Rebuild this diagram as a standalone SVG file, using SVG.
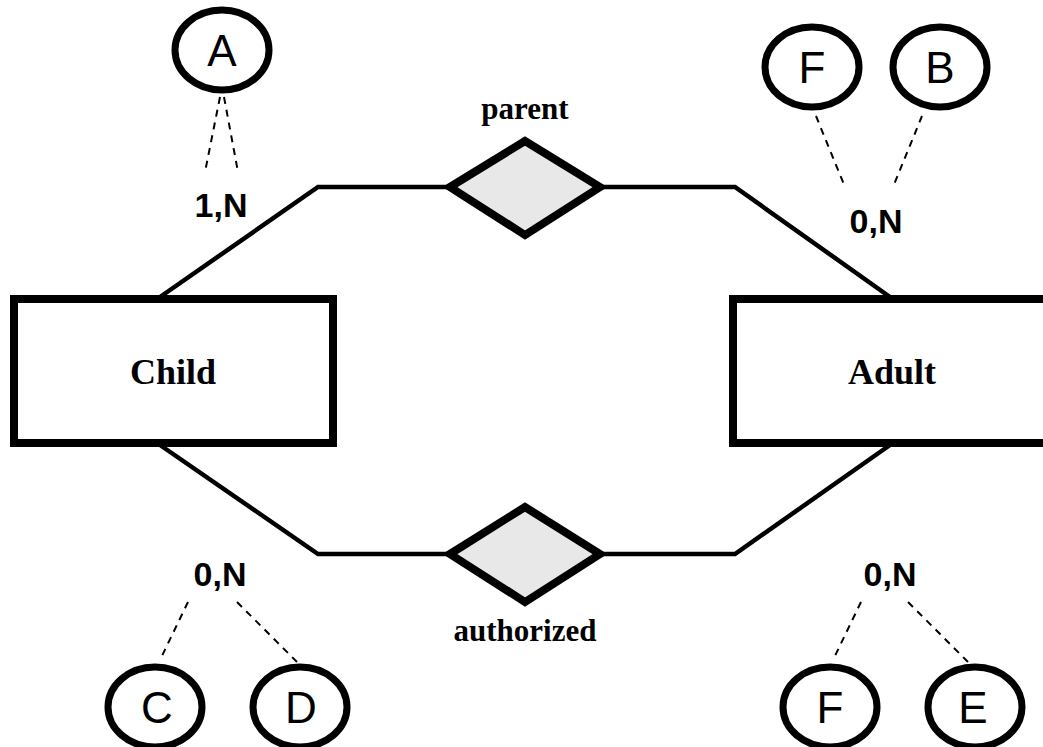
<svg xmlns="http://www.w3.org/2000/svg" width="1043" height="747" viewBox="0 0 1043 747">
<style>
.ent{fill:#fff;stroke:#000;stroke-width:8}
.rel{fill:#e8e8e8;stroke:#000;stroke-width:8;stroke-linejoin:miter}
.att{fill:#fff;stroke:#000;stroke-width:7}
.conn{fill:none;stroke:#000;stroke-width:4.5}
.dash{fill:none;stroke:#000;stroke-width:2;stroke-dasharray:7 6}
.lbl{font-family:"Liberation Serif","Times New Roman",serif;font-weight:bold;text-anchor:middle;fill:#000}
.card{font-family:"Liberation Sans",Arial,sans-serif;font-weight:bold;font-size:34px;text-anchor:middle;fill:#000}
.attl{font-family:"Liberation Sans",Arial,sans-serif;font-size:44px;text-anchor:middle;fill:#000}
</style>
<rect width="1043" height="747" fill="#fff"/>
<g id="connectors">
<polyline class="conn" points="160,297 318,187 450,187"/>
<polyline class="conn" points="600,187 735,187 890,297"/>
<polyline class="conn" points="160,445 318,554 450,554"/>
<polyline class="conn" points="600,554 735,554 890,445"/>
<line class="dash" x1="220" y1="97" x2="205" y2="172"/>
<line class="dash" x1="224" y1="97" x2="238" y2="172"/>
<line class="dash" x1="816" y1="116" x2="845" y2="187"/>
<line class="dash" x1="922" y1="116" x2="893" y2="187"/>
<line class="dash" x1="188" y1="602" x2="160" y2="660"/>
<line class="dash" x1="237" y1="602" x2="297" y2="662"/>
<line class="dash" x1="861" y1="602" x2="833" y2="660"/>
<line class="dash" x1="908" y1="602" x2="968" y2="662"/>
</g>
<g id="child"><rect class="ent" x="14" y="299" width="319" height="144"/><text class="lbl" x="173" y="384" font-size="36">Child</text></g>
<g id="adult"><rect class="ent" x="733" y="299" width="319" height="144"/><text class="lbl" x="892" y="384" font-size="36">Adult</text></g>
<g id="parent"><polygon class="rel" points="450,187 525,141 600,187 525,235"/><text class="lbl" x="525" y="119" font-size="31">parent</text></g>
<g id="authorized"><polygon class="rel" points="450,554 525,507 600,554 525,602"/><text class="lbl" x="525" y="641" font-size="31">authorized</text></g>
<g id="card-child-parent"><text class="card" x="221" y="217">1,N</text></g>
<g id="card-adult-parent"><text class="card" x="876" y="233">0,N</text></g>
<g id="card-child-auth"><text class="card" x="220" y="586">0,N</text></g>
<g id="card-adult-auth"><text class="card" x="890" y="586">0,N</text></g>
<g id="attr-A"><ellipse class="att" cx="222" cy="50" rx="47" ry="40"/><text class="attl" x="222" y="66">A</text></g>
<g id="attr-F1"><ellipse class="att" cx="812" cy="67" rx="47" ry="40"/><text class="attl" x="812" y="83">F</text></g>
<g id="attr-B"><ellipse class="att" cx="940" cy="67" rx="47" ry="40"/><text class="attl" x="940" y="83">B</text></g>
<g id="attr-C"><ellipse class="att" cx="155" cy="707" rx="47" ry="40"/><text class="attl" x="157" y="723">C</text></g>
<g id="attr-D"><ellipse class="att" cx="300" cy="707" rx="47" ry="40"/><text class="attl" x="301" y="723">D</text></g>
<g id="attr-F2"><ellipse class="att" cx="830" cy="707" rx="47" ry="40"/><text class="attl" x="830" y="723">F</text></g>
<g id="attr-E"><ellipse class="att" cx="975" cy="707" rx="47" ry="40"/><text class="attl" x="973" y="723">E</text></g>
</svg>
